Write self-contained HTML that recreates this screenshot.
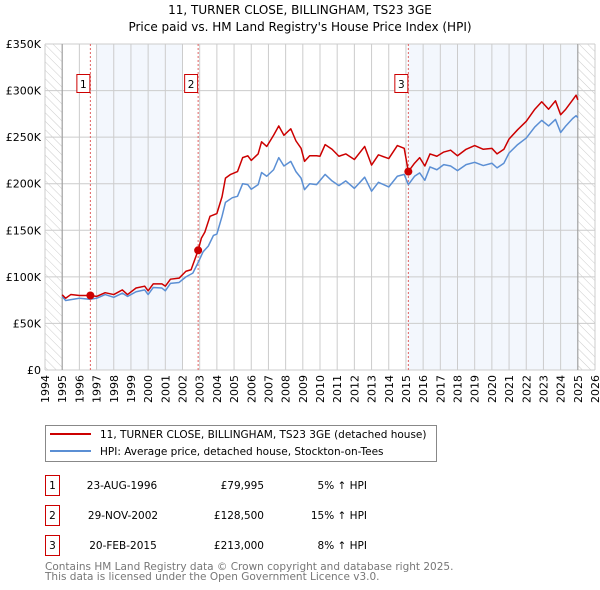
<!DOCTYPE html>
<html><head><meta charset="utf-8"><style>
body{margin:0;background:#fff;font-family:"DejaVu Sans","Liberation Sans",sans-serif;}
svg{display:block}
</style></head><body>
<svg id="chart" width="600" height="590" viewBox="0 0 600 590" font-family="DejaVu Sans, Liberation Sans, sans-serif">
<defs>
<pattern id="hatch" width="6" height="6" patternUnits="userSpaceOnUse" patternTransform="rotate(-45)">
<line x1="0" y1="0" x2="0" y2="6" stroke="#ccc" stroke-width="1"/></pattern>
</defs>
<text x="300" y="14" text-anchor="middle" font-size="12">11, TURNER CLOSE, BILLINGHAM, TS23 3GE</text>
<text x="300" y="31" text-anchor="middle" font-size="12">Price paid vs. HM Land Registry's House Price Index (HPI)</text>
<g id="plot"></g>
<rect x="45.5" y="425.5" width="391" height="36" fill="#fff" stroke="#888"/>
<line x1="50" y1="434" x2="91" y2="434" stroke="#cc0000" stroke-width="2"/>
<text x="100" y="438" font-size="10.5">11, TURNER CLOSE, BILLINGHAM, TS23 3GE (detached house)</text>
<line x1="50" y1="451" x2="91" y2="451" stroke="#5b8fd4" stroke-width="2"/>
<text x="100" y="455" font-size="10.5">HPI: Average price, detached house, Stockton-on-Tees</text>
<g font-size="10.5">
<rect x="45.5" y="475.5" width="14" height="20" fill="none" stroke="#cc0000"/><text x="52.5" y="489" text-anchor="middle">1</text>
<text x="122" y="489" text-anchor="middle">23-AUG-1996</text><text x="264" y="489" text-anchor="end">£79,995</text><text x="367" y="489" text-anchor="end">5% ↑ HPI</text>
<rect x="45.5" y="505.5" width="14" height="20" fill="none" stroke="#cc0000"/><text x="52.5" y="519" text-anchor="middle">2</text>
<text x="123" y="519" text-anchor="middle">29-NOV-2002</text><text x="264" y="519" text-anchor="end">£128,500</text><text x="367" y="519" text-anchor="end">15% ↑ HPI</text>
<rect x="45.5" y="535.5" width="14" height="20" fill="none" stroke="#cc0000"/><text x="52.5" y="549" text-anchor="middle">3</text>
<text x="123" y="549" text-anchor="middle">20-FEB-2015</text><text x="264" y="549" text-anchor="end">£213,000</text><text x="367" y="549" text-anchor="end">8% ↑ HPI</text>
</g>
<text x="45" y="570" font-size="10.5" fill="#777">Contains HM Land Registry data © Crown copyright and database right 2025.</text>
<text x="45" y="580" font-size="10.5" fill="#777">This data is licensed under the Open Government Licence v3.0.</text>
</svg>
<script>
const yTicks=[0,50,100,150,200,250,300,350];
const yTickLabels=["£0","£50K","£100K","£150K","£200K","£250K","£300K","£350K"];
const years=[1994,1995,1996,1997,1998,1999,2000,2001,2002,2003,2004,2005,2006,2007,2008,2009,2010,2011,2012,2013,2014,2015,2016,2017,2018,2019,2020,2021,2022,2023,2024,2025,2026];
const saleDates=[1996.64,2002.91,2015.14];
const salePrices=[80,128.5,213];
const saleLabels=["1","2","3"];
const redT=[1995,1995.2,1995.5,1996,1996.64,1997,1997.5,1998,1998.5,1998.8,1999.3,1999.8,2000,2000.3,2000.8,2001,2001.3,2001.8,2002.2,2002.5,2002.91,2003.1,2003.3,2003.6,2004,2004.3,2004.5,2004.8,2005.2,2005.5,2005.8,2006,2006.4,2006.6,2006.9,2007.3,2007.6,2007.9,2008.3,2008.6,2008.9,2009.1,2009.4,2009.8,2010,2010.3,2010.7,2011.1,2011.5,2012,2012.6,2013,2013.4,2014,2014.5,2014.9,2015.14,2015.5,2015.8,2016.1,2016.4,2016.8,2017.2,2017.6,2018,2018.5,2019,2019.5,2020,2020.3,2020.7,2021,2021.5,2022,2022.5,2022.9,2023.3,2023.7,2024,2024.3,2024.7,2024.9,2025];
const redV=[80.7,77,81,80,80,79,83,81,86,81,88,90,85,92.5,92.5,90,97.5,98.6,106,107.6,128.5,141.6,148,165,168,186,206,210,213,228,230,225,232,245,240,252,262,252,259,246,238,224,230,230,229.5,242,237,229.5,232,226,240,220,231,227,241,238,213,222,228,219,232,229.5,234,236,230,237,241,237,238,232,237,248,258,267,280,288,280,289,274,280,290,295,290];
const blueT=[1995,1995.2,1996,1996.6,1997,1997.5,1998,1998.5,1998.8,1999.3,1999.8,2000,2000.3,2000.8,2001,2001.3,2001.8,2002.2,2002.6,2002.9,2003.2,2003.5,2003.8,2004,2004.3,2004.5,2004.9,2005.2,2005.5,2005.8,2006,2006.4,2006.6,2006.9,2007.3,2007.6,2007.9,2008.3,2008.6,2008.9,2009.1,2009.4,2009.8,2010.3,2010.7,2011.1,2011.5,2012,2012.6,2013,2013.4,2014,2014.5,2014.9,2015.14,2015.5,2015.8,2016.1,2016.4,2016.8,2017.2,2017.6,2018,2018.5,2019,2019.5,2020,2020.3,2020.7,2021,2021.5,2022,2022.5,2022.9,2023.3,2023.7,2024,2024.3,2024.7,2024.9,2025];
const blueV=[79,74.6,77,76,77,81,78,82.5,79,84,86,81,88.6,88,85,93,94,100,104,115,127,133,144.5,146,165,180,185,186.5,200,199,194,199,212,208,215,228,219,224,213,206,193.6,200,199,210,203,198,203,195,207,192,201.5,196.5,208,210,199,208,211.6,203.7,218,215,220.5,219,214,220.5,223,219.5,222,217,222,233,242,249,261,268,262,269,255,262,270,273,271];

const L=45,R=595,T=44,B=370;
const xS=y=>L+(y-1994)*(R-L)/32;
const yS=v=>B-v*(B-T)/350;
const ns="http://www.w3.org/2000/svg";
const g=document.getElementById('plot');
function mk(tag,at){const e=document.createElementNS(ns,tag);for(const k in at)e.setAttribute(k,at[k]);g.appendChild(e);return e;}
// shading bands
let b=mk('rect',{x:xS(1997),y:T,width:xS(2002)-xS(1997),height:B-T,fill:'#eef3fc',opacity:0.7});


b=mk('rect',{x:xS(2015.14),y:T,width:xS(2025)-xS(2015.14),height:B-T,fill:'#eef3fc',opacity:0.7});


b=mk('rect',{x:L,y:T,width:xS(1995)-L,height:B-T,fill:'url(#hatch)'});


b=mk('rect',{x:xS(2025),y:T,width:R-xS(2025),height:B-T,fill:'url(#hatch)'});


// grid
years.forEach(y=>{const l=mk('line',{x1:xS(y),x2:xS(y),y1:T,y2:B,stroke:'#ccc','stroke-width':1});


const t=mk('text',{x:0,y:0,'font-size':11,'text-anchor':'end',transform:`translate(${xS(y)+4},${B+5}) rotate(-90)`});t.textContent=y;

});
yTicks.forEach((v,i)=>{const l=mk('line',{x1:L,x2:R,y1:yS(v),y2:yS(v),stroke:'#ccc','stroke-width':1});


const t=mk('text',{x:L-4,y:yS(v)+4,'font-size':11,'text-anchor':'end'});t.textContent=yTickLabels[i];

});
let ax=mk('line',{x1:xS(1995),x2:xS(1995),y1:T,y2:B,stroke:'#999'});


ax=mk('line',{x1:xS(2025),x2:xS(2025),y1:T,y2:B,stroke:'#999'});


// sale markers lines
saleDates.forEach((d,i)=>{const l=mk('line',{x1:xS(d),x2:xS(d),y1:T,y2:B,stroke:'#e06060','stroke-dasharray':'2,2'});


const r=mk('rect',{x:xS(d)-13.5,y:74.5,width:13,height:18,fill:'#fff',stroke:'#cc0000'});


const t=mk('text',{x:xS(d)-7,y:88,'font-size':10.5,'text-anchor':'middle'});t.textContent=saleLabels[i];

});
function line(ts,vs,col,name){const p=mk('polyline',{points:ts.map((t,i)=>xS(t)+','+yS(vs[i])).join(' '),fill:'none',stroke:col,'stroke-width':1.5,'stroke-linejoin':'round'});

}
line(blueT,blueV,'#5b8fd4','hpi-line');
line(redT,redV,'#cc0000','property-line');
saleDates.forEach((d,i)=>{const c=mk('circle',{cx:xS(d),cy:yS(salePrices[i]),r:4,fill:'#cc0000'});

});
</script>
</body></html>
